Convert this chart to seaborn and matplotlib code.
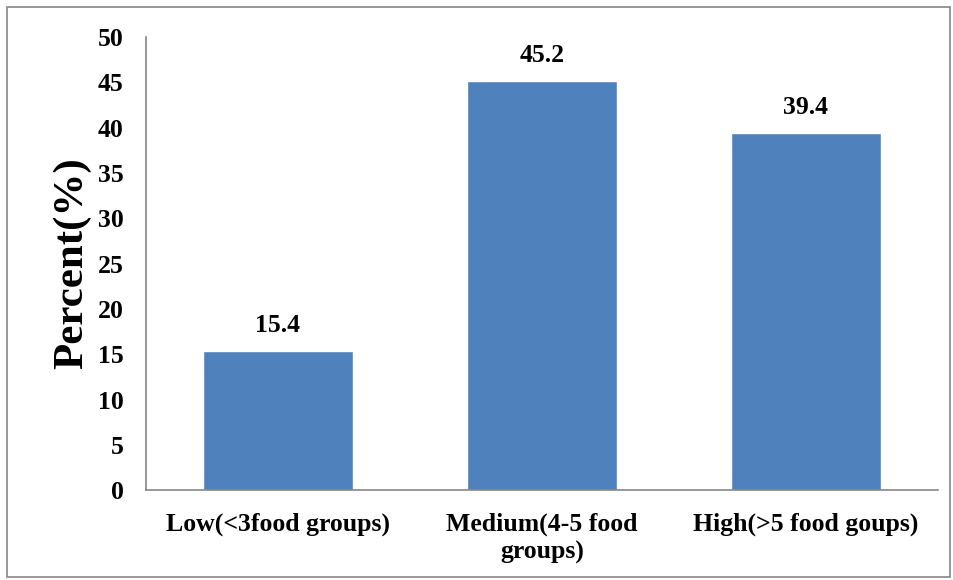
import matplotlib
matplotlib.use("Agg")
import matplotlib.pyplot as plt
from matplotlib.patches import Rectangle
import seaborn as sns
import pandas as pd

categories = ["Low(<3food groups)", "Medium(4-5 food\ngroups)", "High(>5 food goups)"]
percent = [15.4, 45.2, 39.4]
yticks = [0, 5, 10, 15, 20, 25, 30, 35, 40, 45, 50]

df = pd.DataFrame({"group": categories, "percent": percent})

sns.set_style("white")
plt.rcParams['font.family'] = ['Liberation Serif', 'DejaVu Serif']
plt.rcParams['font.weight'] = 'bold'
plt.rcParams['text.color'] = 'black'
plt.rcParams['xtick.color'] = 'black'
plt.rcParams['ytick.color'] = 'black'
plt.rcParams['axes.labelcolor'] = 'black'

fig = plt.figure(figsize=(9.54, 5.80), dpi=100)
ax = fig.add_axes([0.153, 0.155, 0.83, 0.781])

sns.barplot(data=df, x="group", y="percent", color="#4F81BD", saturation=1,
            width=0.57, ax=ax)

for i, v in enumerate(percent):
    ax.text(i, v + 2.8, f"{v}", ha="center", va="center", fontsize=18.5, fontweight="bold")

ax.set_ylim(0, 50)
ax.set_yticks(yticks)
ax.set_xlim(-0.5, 2.5)
ax.tick_params(axis="both", length=0, labelsize=18.5, pad=16)
for lab in ax.get_xticklabels() + ax.get_yticklabels():
    lab.set_fontweight("bold")
    lab.set_linespacing(1.25)
ax.set_xlabel("")
ax.set_ylabel("Percent(%)", fontsize=31, fontweight="bold", labelpad=5)

for s in ["top", "right"]:
    ax.spines[s].set_visible(False)
for s in ["left", "bottom"]:
    ax.spines[s].set_color("#868686")
    ax.spines[s].set_linewidth(1.2)

fig.patches.append(Rectangle((7 / 954, 3 / 580), 943 / 954, 570 / 580, transform=fig.transFigure,
                             fill=False, edgecolor="#868686", linewidth=1.2))

fig.savefig("out.png", dpi=100)
